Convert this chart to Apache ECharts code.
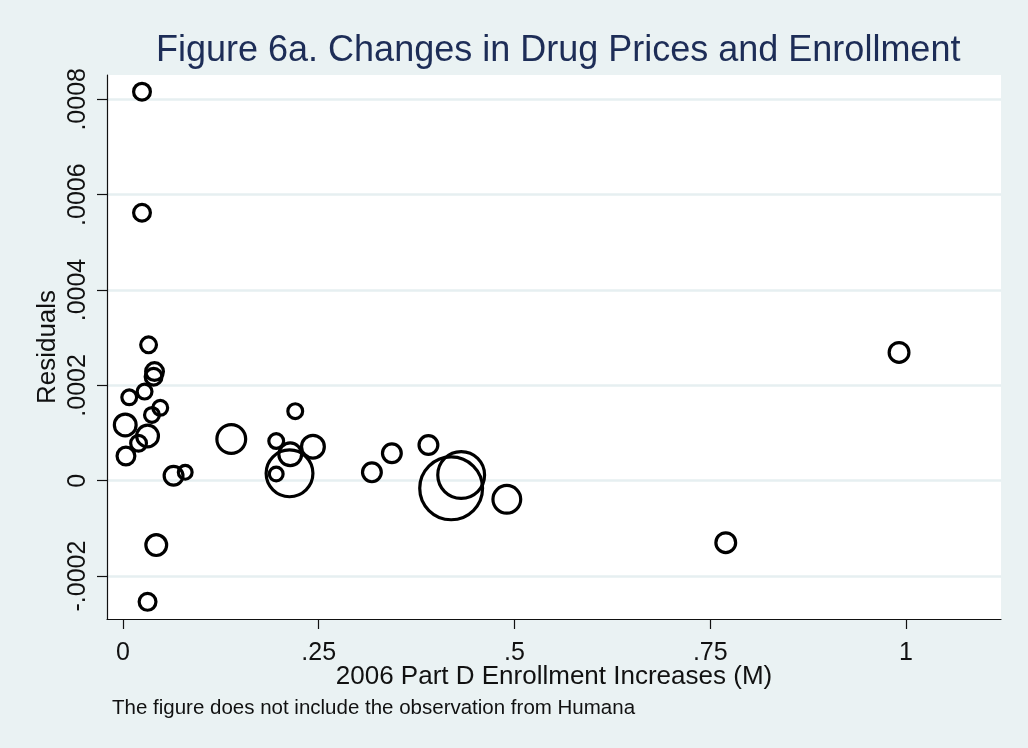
<!DOCTYPE html>
<html>
<head>
<meta charset="utf-8">
<title>Figure 6a</title>
<script src="https://cdn.jsdelivr.net/npm/echarts@6.0.0/dist/echarts.min.js"></script>
<style>
  html, body {
    margin: 0;
    padding: 0;
    background: #eaf2f3;
  }
  #chart {
    width: 1028px;
    height: 748px;
  }
</style>
</head>
<body>
<div id="chart"></div>
<script>
// enrollment increase (M) per plan
var enrollment = [
  0.0243, 0.0243, 0.0327, 0.0403, 0.0391, 0.0276, 0.0080, 0.0476,
  0.0370, 0.0029, 0.0314, 0.0199, 0.0038, 0.0646, 0.0795, 0.1383,
  0.2200, 0.1957, 0.2136, 0.2426, 0.2127, 0.1957, 0.3179, 0.3434,
  0.3901, 0.4319, 0.4191, 0.4902, 0.0425, 0.0314, 0.7698, 0.9911
];
// residuals
var residuals = [
  0.000816, 0.000562, 0.000285, 0.000229, 0.000218, 0.000187, 0.000175, 0.000153,
  0.000138, 0.000117, 0.0000938, 0.0000785, 0.0000518, 0.0000105, 0.0000176, 0.0000875,
  0.000146, 0.0000833, 0.0000554, 0.0000714, 0.0000155, 0.0000141, 0.0000176, 0.0000575,
  0.0000749, 0.000012, -0.0000159, -0.000039, -0.000135, -0.000254, -0.000130, 0.000269
];
// relative weights (marker area)
var weights = [
  1.00, 1.00, 0.90, 1.10, 1.00, 0.81, 0.81, 0.81,
  0.81, 1.56, 1.56, 0.90, 1.10, 1.21, 0.72, 2.56,
  0.81, 0.81, 1.69, 1.69, 6.25, 0.72, 1.21, 1.21,
  1.21, 6.25, 10.9, 2.40, 1.44, 1.00, 1.32, 1.32
];
var xTicks = [0, 0.25, 0.5, 0.75, 1];
var yTicks = [-0.0002, 0, 0.0002, 0.0004, 0.0006, 0.0008];

var font = "'Liberation Sans', Arial, sans-serif";
var ring = 3.2;

// stata style labels: .25 instead of 0.25
function stataNum(v) {
  if (v === 0) return "0";
  return String(v).replace(/^(-?)0\./, "$1.");
}

var points = [];
for (var i = 0; i < enrollment.length; i++) {
  points.push([enrollment[i], residuals[i], weights[i]]);
}

var myChart = echarts.init(document.getElementById("chart"));

var option = {
  backgroundColor: "#eaf2f3",
  animation: false,
  title: [
    {
      text: "Figure 6a. Changes in Drug Prices and Enrollment",
      left: 156,
      top: 33,
      padding: 0,
      textStyle: {
        fontFamily: font,
        fontSize: 36,
        lineHeight: 36,
        fontWeight: "normal",
        color: "#1d2d57"
      }
    },
    {
      text: "The figure does not include the observation from Humana",
      left: 112,
      top: 698,
      padding: 0,
      textStyle: {
        fontFamily: font,
        fontSize: 20.5,
        lineHeight: 20.5,
        fontWeight: "normal",
        color: "#111"
      }
    }
  ],
  grid: {
    left: 107,
    right: 27,
    top: 75,
    bottom: 129,
    show: true,
    backgroundColor: "#ffffff",
    borderWidth: 0,
    containLabel: false
  },
  xAxis: {
    type: "value",
    min: -0.0204,
    max: 1.1213,
    name: "2006 Part D Enrollment Increases (M)",
    nameLocation: "middle",
    nameGap: 45,
    nameMoveOverlap: false,
    nameTextStyle: {
      fontFamily: font,
      fontSize: 26,
      lineHeight: 26,
      color: "#111"
    },
    axisLine: { show: true, onZero: false, lineStyle: { color: "#111", width: 1.2 } },
    axisTick: {
      show: true,
      inside: false,
      length: 10,
      customValues: xTicks,
      lineStyle: { color: "#111", width: 1.2 }
    },
    axisLabel: {
      margin: 22,
      customValues: xTicks,
      fontFamily: font,
      fontSize: 25,
      lineHeight: 25,
      color: "#111",
      formatter: stataNum
    },
    splitLine: { show: false }
  },
  yAxis: {
    type: "value",
    min: -0.000290,
    max: 0.000851,
    name: "Residuals",
    nameLocation: "middle",
    nameRotate: 90,
    nameGap: 46,
    nameMoveOverlap: false,
    nameTextStyle: {
      fontFamily: font,
      fontSize: 26,
      lineHeight: 26,
      color: "#111"
    },
    axisLine: { show: true, onZero: false, lineStyle: { color: "#111", width: 1.2 } },
    axisTick: {
      show: true,
      inside: false,
      length: 10,
      customValues: yTicks,
      lineStyle: { color: "#111", width: 1.2 }
    },
    axisLabel: {
      margin: 16,
      rotate: 90,
      customValues: yTicks,
      fontFamily: font,
      fontSize: 25,
      lineHeight: 25,
      color: "#111",
      formatter: stataNum
    },
    splitLine: {
      show: true,
      lineStyle: { color: "#e6eff1", width: 2.5 }
    }
  },
  series: [
    {
      type: "scatter",
      data: points,
      symbol: "circle",
      // area proportional to weight, ~20px across for weight 1
      symbolSize: function (val) {
        return 20 * Math.sqrt(val[2]) - ring;
      },
      itemStyle: {
        color: "rgba(0,0,0,0)",
        borderColor: "#000",
        borderWidth: ring,
        opacity: 1
      },
      emphasis: { disabled: true }
    }
  ]
};

myChart.setOption(option);
</script>
</body>
</html>
